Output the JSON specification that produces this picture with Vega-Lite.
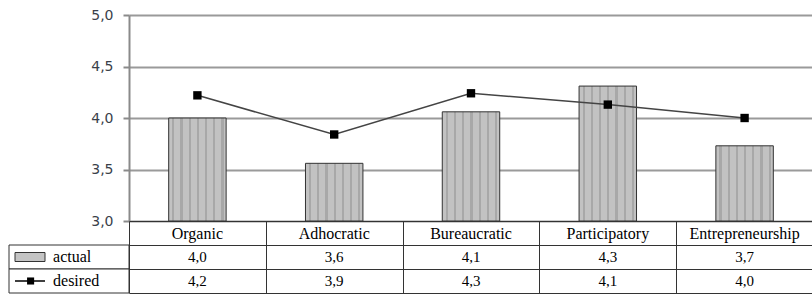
{
  "$schema": "https://vega.github.io/schema/vega-lite/v6.json",
  "autosize": {"type": "pad"},
  "padding": {"left": 8, "top": 8, "right": 0, "bottom": 0},
  "background": "white",
  "config": {"view": {"stroke": null}},
  "datasets": {
    "scores": [
      {"category": "Organic", "actual": 4.0, "desired": 4.22, "actual_txt": "4,0", "desired_txt": "4,2"},
      {"category": "Adhocratic", "actual": 3.56, "desired": 3.84, "actual_txt": "3,6", "desired_txt": "3,9"},
      {"category": "Bureaucratic", "actual": 4.06, "desired": 4.24, "actual_txt": "4,1", "desired_txt": "4,3"},
      {"category": "Participatory", "actual": 4.31, "desired": 4.13, "actual_txt": "4,3", "desired_txt": "4,1"},
      {"category": "Entrepreneurship", "actual": 3.73, "desired": 4.0, "actual_txt": "3,7", "desired_txt": "4,0"}
    ],
    "series": [{"series": "actual"}, {"series": "desired"}]
  },
  "columns": 2,
  "spacing": 0,
  "bounds": "flush",
  "concat": [
    {
      "width": 120,
      "height": 206,
      "data": {"values": [{"blank": 1}]},
      "mark": {"type": "point", "opacity": 0},
      "encoding": {}
    },
    {
      "width": 684,
      "height": 206,
      "data": {"name": "scores"},
      "encoding": {
        "x": {
          "field": "category",
          "type": "nominal",
          "sort": ["Organic", "Adhocratic", "Bureaucratic", "Participatory", "Entrepreneurship"],
          "scale": {"paddingInner": 0, "paddingOuter": 0},
          "axis": null
        }
      },
      "layer": [
        {
          "mark": {
            "type": "bar",
            "width": {"band": 0.42},
            "fill": {
              "gradient": "linear", "x1": 0, "x2": 1, "y1": 0, "y2": 0,
              "stops": [
                {"offset": 0, "color": "#c2c2c2"},
                {"offset": 0.06, "color": "#c2c2c2"}, {"offset": 0.06, "color": "#a8a8a8"},
                {"offset": 0.10, "color": "#a8a8a8"}, {"offset": 0.10, "color": "#c2c2c2"},
                {"offset": 0.2029, "color": "#c2c2c2"}, {"offset": 0.2029, "color": "#a8a8a8"},
                {"offset": 0.2429, "color": "#a8a8a8"}, {"offset": 0.2429, "color": "#c2c2c2"},
                {"offset": 0.3457, "color": "#c2c2c2"}, {"offset": 0.3457, "color": "#a8a8a8"},
                {"offset": 0.3857, "color": "#a8a8a8"}, {"offset": 0.3857, "color": "#c2c2c2"},
                {"offset": 0.4886, "color": "#c2c2c2"}, {"offset": 0.4886, "color": "#a8a8a8"},
                {"offset": 0.5286, "color": "#a8a8a8"}, {"offset": 0.5286, "color": "#c2c2c2"},
                {"offset": 0.6314, "color": "#c2c2c2"}, {"offset": 0.6314, "color": "#a8a8a8"},
                {"offset": 0.6714, "color": "#a8a8a8"}, {"offset": 0.6714, "color": "#c2c2c2"},
                {"offset": 0.7743, "color": "#c2c2c2"}, {"offset": 0.7743, "color": "#a8a8a8"},
                {"offset": 0.8143, "color": "#a8a8a8"}, {"offset": 0.8143, "color": "#c2c2c2"},
                {"offset": 0.9171, "color": "#c2c2c2"}, {"offset": 0.9171, "color": "#a8a8a8"},
                {"offset": 0.9571, "color": "#a8a8a8"}, {"offset": 0.9571, "color": "#c2c2c2"},
                {"offset": 1, "color": "#c2c2c2"}
              ]
            },
            "stroke": "#333333",
            "strokeWidth": 1
          },
          "encoding": {
            "y": {
              "field": "actual",
              "type": "quantitative",
              "scale": {"domain": [3, 5], "nice": false, "zero": false},
              "axis": {
                "values": [3, 3.5, 4, 4.5, 5],
                "labelExpr": "replace(format(datum.value, '.1f'), '.', ',')",
                "title": null,
                "tickSize": 6,
                "tickColor": "#8a8a8a",
                "tickWidth": 2,
                "domainColor": "#8a8a8a",
                "domainWidth": 2,
                "gridColor": "#9a9a9a",
                "gridWidth": 2,
                "labelFont": "DejaVu Sans",
                "labelFontSize": 14,
                "labelColor": "#3a3f4a",
                "labelPadding": 10
              }
            },
            "y2": {"datum": 3}
          }
        },
        {
          "mark": {"type": "line", "color": "#444444", "strokeWidth": 1.5},
          "encoding": {"y": {"field": "desired", "type": "quantitative"}}
        },
        {
          "mark": {"type": "point", "shape": "square", "filled": true, "color": "#000000", "size": 70, "opacity": 1},
          "encoding": {"y": {"field": "desired", "type": "quantitative"}}
        }
      ]
    },
    {
      "width": 120,
      "height": 72,
      "data": {"name": "series"},
      "encoding": {
        "y": {
          "field": "series",
          "type": "nominal",
          "scale": {"domain": ["header", "actual", "desired"], "paddingInner": 0, "paddingOuter": 0},
          "axis": null
        }
      },
      "layer": [
        {
          "mark": {"type": "rect", "fill": "white", "stroke": "#333333", "strokeWidth": 1}
        },
        {
          "transform": [{"filter": "datum.series === 'actual'"}],
          "mark": {"type": "bar", "height": 9, "fill": "#c4c4c4", "stroke": "#333333", "strokeWidth": 1},
          "encoding": {
            "x": {"datum": 0.05, "type": "quantitative", "scale": {"domain": [0, 1]}, "axis": null},
            "x2": {"datum": 0.3}
          }
        },
        {
          "transform": [{"filter": "datum.series === 'desired'"}],
          "mark": {"type": "rule", "color": "#000000", "strokeWidth": 1.5},
          "encoding": {
            "x": {"datum": 0.05, "type": "quantitative"},
            "x2": {"datum": 0.3}
          }
        },
        {
          "transform": [{"filter": "datum.series === 'desired'"}],
          "mark": {"type": "point", "shape": "square", "filled": true, "color": "#000000", "size": 50, "opacity": 1},
          "encoding": {"x": {"datum": 0.18, "type": "quantitative"}}
        },
        {
          "mark": {"type": "text", "align": "left", "font": "Liberation Serif", "fontSize": 16, "color": "#000000"},
          "encoding": {
            "x": {"datum": 0.367, "type": "quantitative"},
            "text": {"field": "series"}
          }
        }
      ]
    },
    {
      "width": 684,
      "height": 72,
      "data": {"name": "scores"},
      "encoding": {
        "x": {
          "field": "category",
          "type": "nominal",
          "sort": ["Organic", "Adhocratic", "Bureaucratic", "Participatory", "Entrepreneurship"],
          "scale": {"paddingInner": 0, "paddingOuter": 0},
          "axis": {"grid": true, "tickBand": "extent", "labels": false, "ticks": false, "domain": false, "title": null, "gridColor": "#333333", "gridWidth": 1}
        }
      },
      "layer": [
        {
          "transform": [{"fold": ["actual_txt", "desired_txt"], "as": ["row", "label"]}],
          "mark": {"type": "text", "font": "Liberation Serif", "fontSize": 15, "color": "#000000"},
          "encoding": {
            "y": {
              "field": "row",
              "type": "nominal",
              "scale": {"domain": ["header", "actual_txt", "desired_txt"], "paddingInner": 0, "paddingOuter": 0},
              "axis": {"grid": true, "tickBand": "extent", "labels": false, "ticks": false, "domain": false, "title": null, "gridColor": "#333333", "gridWidth": 1}
            },
            "text": {"field": "label"}
          }
        },
        {
          "mark": {"type": "text", "font": "Liberation Serif", "fontSize": 16, "color": "#000000", "dy": 1},
          "encoding": {
            "y": {"datum": "header", "type": "nominal"},
            "text": {"field": "category"}
          }
        }
      ]
    }
  ]
}
